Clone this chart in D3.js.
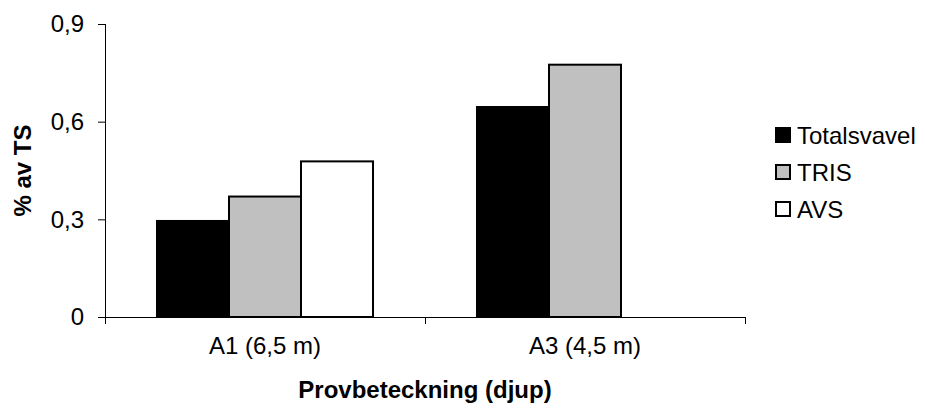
<!DOCTYPE html>
<html>
<head>
    <meta charset="utf-8">
    <title>% av TS</title>
    <script src="https://d3js.org/d3.v7.min.js"></script>
    <style>
        body { margin: 0; background: #fff; }
        svg text { font-family: "Liberation Sans", Arial, sans-serif; fill: #000; }
        .tick-label { font-size: 24px; }
        .axis-title { font-size: 24px; font-weight: bold; }
    </style>
</head>
<body>
    <div id="chart"></div>

    <script>
        // data
        const categories = ["A1 (6,5 m)", "A3 (4,5 m)"];
        const seriesNames = ["Totalsvavel", "TRIS", "AVS"];
        const totalsvavel = [0.295, 0.645];
        const tris = [0.37, 0.775];
        const avs = [0.478, null];
        const yTicks = [0, 0.3, 0.6, 0.9];
        const yTickLabels = ["0", "0,3", "0,6", "0,9"];

        const fills = {"Totalsvavel": "#000000", "TRIS": "#c0c0c0", "AVS": "#ffffff"};

        const width = 925, height = 408;
        const plot = {left: 105, right: 745, top: 24, bottom: 317};

        const svg = d3.select("#chart")
            .append("svg")
            .attr("width", width)
            .attr("height", height);

        const x0 = d3.scaleBand()
            .domain(categories)
            .range([plot.left, plot.right])
            .padding(0);

        const x1 = d3.scaleBand()
            .domain(seriesNames)
            .range([0, x0.bandwidth()])
            .paddingInner(0)
            .paddingOuter(0.722);

        const y = d3.scaleLinear()
            .domain([0, 0.9])
            .range([plot.bottom, plot.top]);

        const values = {"Totalsvavel": totalsvavel, "TRIS": tris, "AVS": avs};
        const rows = [];
        seriesNames.forEach(s => {
            categories.forEach((c, i) => {
                if (values[s][i] != null) rows.push({series: s, cat: c, value: values[s][i]});
            });
        });

        // bars
        svg.append("g")
            .selectAll("rect")
            .data(rows)
            .enter()
            .append("rect")
            .attr("x", d => x0(d.cat) + x1(d.series))
            .attr("y", d => y(d.value))
            .attr("width", x1.bandwidth())
            .attr("height", d => y(0) - y(d.value))
            .attr("fill", d => fills[d.series])
            .attr("stroke", "#000")
            .attr("stroke-width", 2);

        // y axis
        const yAxis = svg.append("g")
            .attr("transform", `translate(${plot.left},0)`)
            .call(d3.axisLeft(y)
                .tickValues(yTicks)
                .tickSize(7)
                .tickPadding(14)
                .tickFormat((d, i) => yTickLabels[i]));
        yAxis.select(".domain").attr("stroke", "#000").attr("d", `M0.5,${plot.top}V${plot.bottom}`);
        yAxis.selectAll(".tick line").attr("stroke", "#000");
        yAxis.selectAll(".tick text")
            .attr("class", "tick-label")
            .style("font-size", "24px")
            .attr("font-family", null);

        // x axis
        const xAxis = svg.append("g")
            .attr("transform", `translate(0,${plot.bottom})`)
            .call(d3.axisBottom(x0).tickSize(0).tickPadding(20));
        xAxis.select(".domain").attr("stroke", "#000").attr("d", `M${plot.left},0.5H${plot.right}`);
        xAxis.selectAll(".tick text")
            .attr("class", "tick-label")
            .style("font-size", "24px")
            .attr("font-family", null);

        // category boundary ticks
        const bounds = categories.map(c => x0(c)).concat([x0(categories[categories.length - 1]) + x0.bandwidth()]);
        xAxis.selectAll(".bound")
            .data(bounds)
            .enter()
            .append("line")
            .attr("x1", d => d + 0.5)
            .attr("x2", d => d + 0.5)
            .attr("y1", 0)
            .attr("y2", 7)
            .attr("stroke", "#000");

        // axis titles
        svg.append("text")
            .attr("class", "axis-title")
            .attr("x", (plot.left + plot.right) / 2)
            .attr("y", 398)
            .attr("text-anchor", "middle")
            .text("Provbeteckning (djup)");

        svg.append("text")
            .attr("class", "axis-title")
            .attr("transform", `translate(31,${(plot.top + plot.bottom) / 2}) rotate(-90)`)
            .attr("text-anchor", "middle")
            .text("% av TS");

        // legend
        const legend = svg.append("g")
            .attr("transform", "translate(776,135)");

        seriesNames.forEach((s, i) => {
            const row = legend.append("g")
                .attr("transform", `translate(0,${i * 37})`);
            row.append("rect")
                .attr("x", 0)
                .attr("y", -7)
                .attr("width", 14)
                .attr("height", 14)
                .attr("fill", fills[s])
                .attr("stroke", "#000")
                .attr("stroke-width", 2);
            row.append("text")
                .attr("x", 21)
                .attr("y", 8.5)
                .style("font-size", "24px")
                .text(s);
        });
    </script>
</body>
</html>
